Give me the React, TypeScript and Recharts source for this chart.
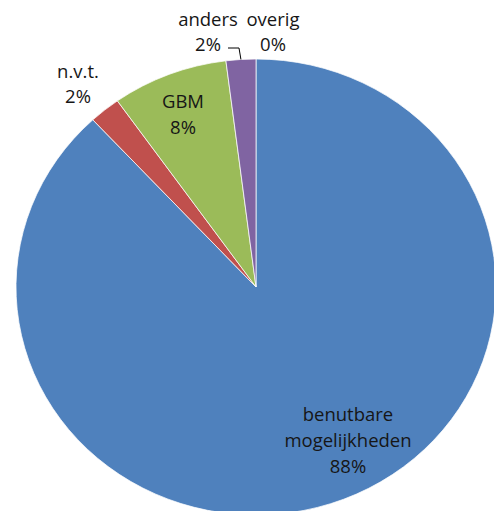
import React from 'react';
import { PieChart, Pie, Cell } from 'recharts';

const categories = ['benutbare mogelijkheden', 'n.v.t.', 'GBM', 'anders', 'overig'];
const values = [88.1, 2.1, 7.8, 2.0, 0];
const colors = ['#4F81BD', '#C0504D', '#9BBB59', '#8064A2', '#F79646'];

// label line splits
const labelLines: string[][] = [['benutbare', 'mogelijkheden'], ['n.v.t.'], ['GBM'], ['anders'], ['overig']];

const W = 494;
const H = 511;
const CX = 256;
const CY = 287;
const R = 240;
const Y_SCALE = 228 / 240;

// label placement relative to pie centre: x offset, y of first line, line gap
const labelLayout = [
  { dx: 92, dy: 126, gap: 26 },
  { dx: -178, dy: -217, gap: 25 },
  { dx: -73, dy: -187, gap: 26 },
  { dx: -48, dy: -269, gap: 25 },
  { dx: 17, dy: -269, gap: 25 },
];

const data = categories.map((name, i) => ({ name, value: values[i] }));

const FONT = "'Open Sans', sans-serif";

const renderLabel = (props: any) => {
  const { cx, cy, index, percent, midAngle, outerRadius } = props;
  const layout = labelLayout[index];
  const lines = [...labelLines[index], `${Math.round(percent * 100)}%`];
  const x = cx + layout.dx;
  const RAD = Math.PI / 180;
  let leader = null;
  if (index === 3) {
    const ox = cx + outerRadius * Math.cos(-midAngle * RAD);
    const oy = cy + outerRadius * Math.sin(-midAngle * RAD) * Y_SCALE;
    const ly = cy + layout.dy + layout.gap * 1.2;
    leader = (
      <polyline
        points={`${x + 20},${ly} ${x + 31},${ly} ${ox},${oy}`}
        fill="none"
        stroke="#000"
        strokeWidth={1}
      />
    );
  }
  return (
    <g key={`lbl-${index}`}>
      {leader}
      {lines.map((t, k) => (
        <text
          key={k}
          x={x}
          y={cy + layout.dy + k * layout.gap}
          textAnchor="middle"
          dominantBaseline="central"
          fontFamily={FONT}
          fontSize={18.5}
          fill="#161616"
        >
          {t}
        </text>
      ))}
    </g>
  );
};

export default function App() {
  return (
    <div style={{ position: 'absolute', left: 0, top: 0, width: W, height: H, background: '#fff' }}>
      <style>{`.recharts-pie-sector { transform: scaleY(${Y_SCALE}); transform-origin: ${CX}px ${CY}px; }`}</style>
      <PieChart width={W} height={H} margin={{ top: 0, right: 0, bottom: 0, left: 0 }}>
        <Pie
          data={data}
          dataKey="value"
          nameKey="name"
          cx={CX}
          cy={CY}
          outerRadius={R}
          startAngle={90}
          endAngle={-270}
          stroke="#ffffff"
          strokeWidth={0.75}
          label={renderLabel}
          labelLine={false}
          isAnimationActive={false}
        >
          {data.map((d, i) => (
            <Cell key={d.name} fill={colors[i]} />
          ))}
        </Pie>
      </PieChart>
    </div>
  );
}
